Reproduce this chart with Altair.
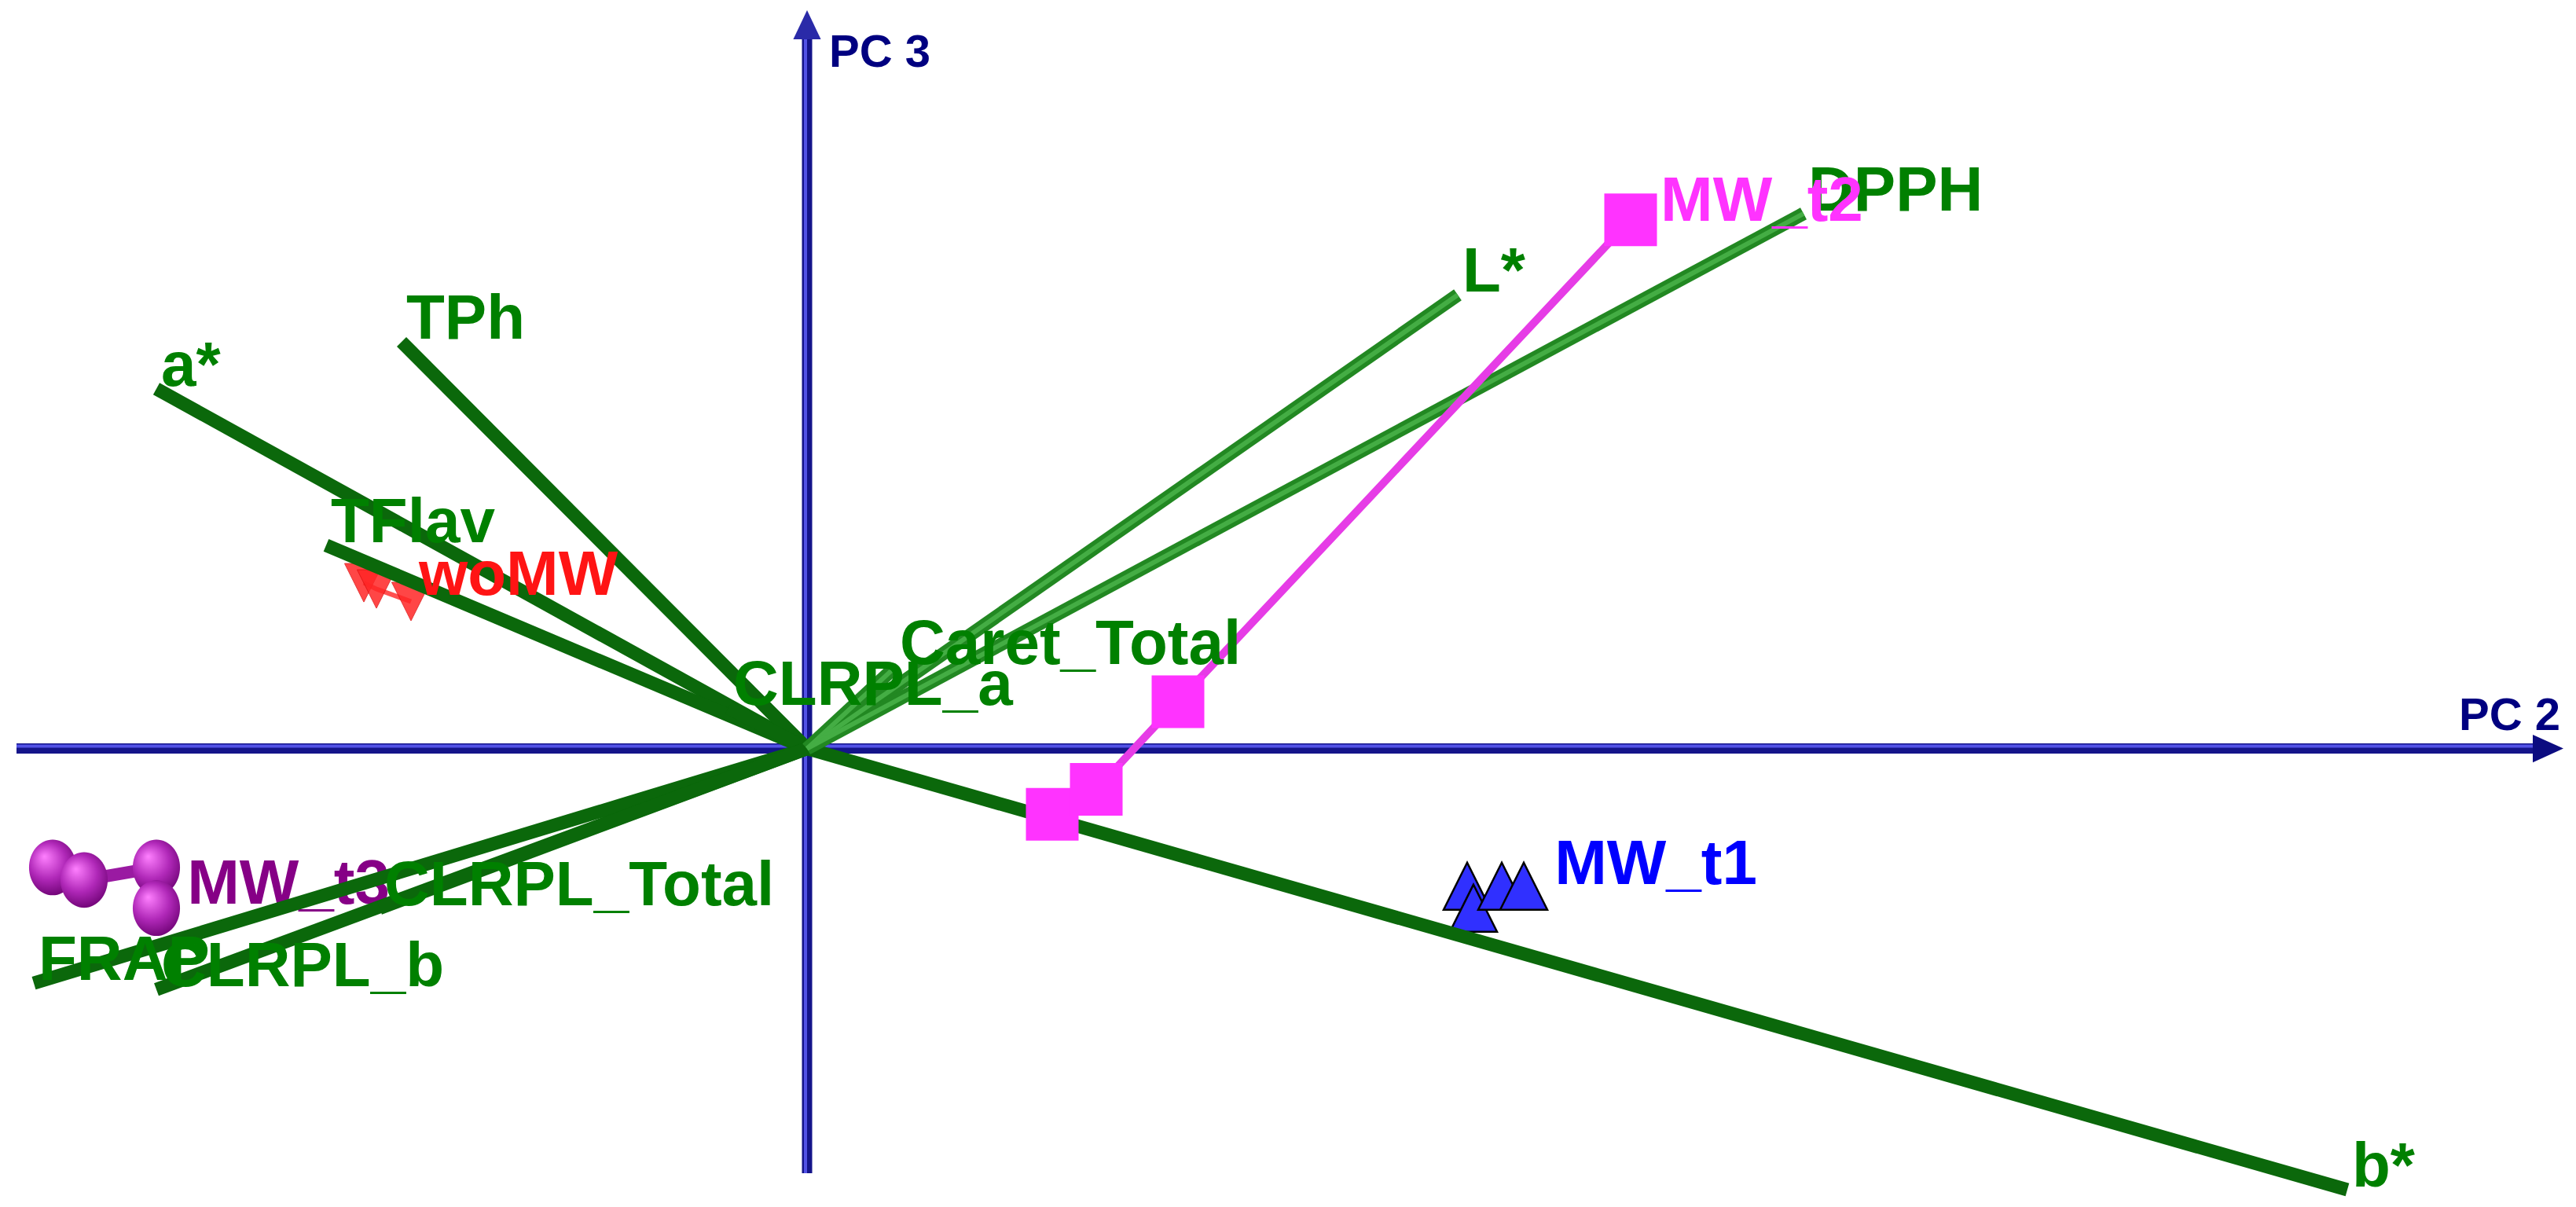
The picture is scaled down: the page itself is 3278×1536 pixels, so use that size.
import altair as alt
import pandas as pd

# ---------------- data ----------------
# variable loadings (PC 2, PC 3)
var_names = ["a*", "TPh", "TFlav", "CLRPL_a", "Caret_Total", "L*", "DPPH", "b*", "FRAP", "CLRPL_b", "CLRPL_Total"]
var_pc2 = [-2.07, -1.29, -1.53, -0.25, 0.28, 2.07, 3.17, 4.90, -2.46, -2.07, -1.36]
var_pc3 = [1.15, 1.30, 0.65, 0.13, 0.26, 1.45, 1.71, -1.41, -0.75, -0.77, -0.51]
var_tone = ["dark", "dark", "dark", "dark", "light", "light", "light", "dark", "dark", "dark", "dark"]

# sample scores
wo_pc2 = [-1.41, -1.37, -1.26]
wo_pc3 = [0.53, 0.51, 0.47]
t1_pc2 = [2.10, 2.12, 2.21, 2.28]
t1_pc3 = [-0.44, -0.51, -0.44, -0.44]
t2_pc2 = [0.78, 0.92, 1.18, 2.62]
t2_pc3 = [-0.21, -0.13, 0.15, 1.69]
t3_pc2 = [-2.40, -2.30, -2.07, -2.07]
t3_pc3 = [-0.38, -0.42, -0.38, -0.51]

group_names = ["woMW", "MW_t1", "MW_t2", "MW_t3"]
group_colors = ["#ff1414", "#0000ff", "#ff33ff", "#860086"]
group_label_pc2 = [-1.235, 2.378, 2.715, -1.972]
group_label_pc3 = [0.492, -0.432, 1.688, -0.495]

axis_names = ["PC 2", "PC 3"]
pc2_axis = [-2.515, 5.5875]
pc3_axis = [-1.3575, 2.36]

W, H = 3256, 1518
x_dom = [-2.5475, 5.5925]
y_dom = [-1.4225, 2.3725]

xs = alt.Scale(domain=x_dom, nice=False, zero=False)
ys = alt.Scale(domain=y_dom, nice=False, zero=False)

def X(f):
    return alt.X(f, type="quantitative", scale=xs, axis=None)

def Y(f):
    return alt.Y(f, type="quantitative", scale=ys, axis=None)

FONT = "Liberation Sans, Arial, sans-serif"
FS = 80

# ---------------- axes ----------------
h_axis = pd.DataFrame({"x": [pc2_axis[0]], "x2": [pc2_axis[1]], "y": [0.0]})
v_axis = pd.DataFrame({"y": [pc3_axis[0]], "y2": [pc3_axis[1]], "x": [0.0]})

h_main = alt.Chart(h_axis).mark_rule(color="#14148a", strokeWidth=13, x2Offset=-25).encode(
    x=X("x"), x2="x2", y=Y("y"))
h_hi = alt.Chart(h_axis).mark_rule(color="#5252e6", strokeWidth=4, x2Offset=-25, yOffset=-3).encode(
    x=X("x"), x2="x2", y=Y("y"))
v_main = alt.Chart(v_axis).mark_rule(color="#14148a", strokeWidth=13, y2Offset=25).encode(
    y=Y("y"), y2="y2", x=X("x"))
v_hi = alt.Chart(v_axis).mark_rule(color="#5252e6", strokeWidth=4, y2Offset=25, xOffset=-2).encode(
    y=Y("y"), y2="y2", x=X("x"))

h_head = alt.Chart(pd.DataFrame({"x": [pc2_axis[1]], "y": [0.0]})).mark_point(
    shape="M1,0L-1,-0.9L-1,0.9Z", size=1521, filled=True, fill="#0c0c80", opacity=1,
    xOffset=-19.5).encode(x=X("x"), y=Y("y"))
v_head = alt.Chart(pd.DataFrame({"x": [0.0], "y": [pc3_axis[1]]})).mark_point(
    shape="M0,-1L-0.95,1L0.95,1Z", size=1369, filled=True, fill="#2a2aa8", opacity=1,
    yOffset=18.5).encode(x=X("x"), y=Y("y"))

axis_lab = pd.DataFrame({"name": axis_names, "x": [pc2_axis[1], 0.0], "y": [0.0, pc3_axis[1]]})
pc2_text = alt.Chart(axis_lab.iloc[[0]]).mark_text(
    font=FONT, fontWeight="bold", fontSize=58, color="#000080", align="right",
    baseline="alphabetic", dx=-4, dy=-24).encode(x=X("x"), y=Y("y"), text="name")
pc3_text = alt.Chart(axis_lab.iloc[[1]]).mark_text(
    font=FONT, fontWeight="bold", fontSize=58, color="#000080", align="left",
    baseline="alphabetic", dx=28, dy=72).encode(x=X("x"), y=Y("y"), text="name")

# ---------------- loadings ----------------
vdf = pd.DataFrame({"name": var_names, "x": var_pc2, "y": var_pc3, "tone": var_tone,
                    "x0": [0.0] * len(var_names), "y0": [0.0] * len(var_names)})

vec_dark = alt.Chart(vdf[vdf.tone == "dark"]).mark_rule(color="#0b680b", strokeWidth=17).encode(
    x=X("x0"), y=Y("y0"), x2="x", y2="y")
vec_light = alt.Chart(vdf[vdf.tone == "light"]).mark_rule(color="#228822", strokeWidth=17).encode(
    x=X("x0"), y=Y("y0"), x2="x", y2="y")
vec_light_hi = alt.Chart(vdf[vdf.tone == "light"]).mark_rule(color="#44ad44", strokeWidth=6).encode(
    x=X("x0"), y=Y("y0"), x2="x", y2="y")

vec_text = alt.Chart(vdf).mark_text(
    font=FONT, fontWeight="bold", fontSize=FS, color="#008000", align="left",
    baseline="alphabetic", dx=6, dy=-4).encode(x=X("x"), y=Y("y"), text="name")

# ---------------- scores ----------------
def sdf(px, py):
    return pd.DataFrame({"x": px, "y": py, "o": list(range(len(px)))})

wo = sdf(wo_pc2, wo_pc3)
t1 = sdf(t1_pc2, t1_pc3)
t2 = sdf(t2_pc2, t2_pc3)
t3 = sdf(t3_pc2, t3_pc3)

wo_line = alt.Chart(wo).mark_line(color="#ff5050", strokeWidth=6).encode(x=X("x"), y=Y("y"), order="o")
wo_pts = alt.Chart(wo).mark_point(shape="M-1,-1L1,-1L0,1Z", size=2400, filled=True,
                                  fill="#ff2626", opacity=0.85, stroke="#e01010", strokeWidth=1).encode(
    x=X("x"), y=Y("y"))

t1_line = alt.Chart(t1).mark_line(color="#2424e0", strokeWidth=9).encode(x=X("x"), y=Y("y"), order="o")
t1_pts = alt.Chart(t1).mark_point(shape="M0,-1L-1,1L1,1Z", size=3600, filled=True,
                                  fill="#3030ff", opacity=1, stroke="#000000", strokeWidth=2.5).encode(
    x=X("x"), y=Y("y"))

t2_line = alt.Chart(t2).mark_line(color="#e63ce6", strokeWidth=10).encode(x=X("x"), y=Y("y"), order="o")
t2_pts = alt.Chart(t2).mark_point(shape="square", size=4489, filled=True,
                                  fill="#ff33ff", opacity=1).encode(x=X("x"), y=Y("y"))

sphere_fill = alt.RadialGradient(
    gradient="radial",
    stops=[alt.GradientStop(offset=0, color="#ff80ff"),
           alt.GradientStop(offset=0.55, color="#b028b8"),
           alt.GradientStop(offset=1, color="#6a0070")],
    x1=0.35, y1=0.3, r1=0.0, x2=0.45, y2=0.45, r2=0.6)
t3_line = alt.Chart(t3).mark_line(color="#9a1aa2", strokeWidth=16).encode(x=X("x"), y=Y("y"), order="o")
t3_pts = alt.Chart(t3).mark_point(shape="M0,-1A0.85,1 0 1,1 0,1A0.85,1 0 1,1 0,-1Z", size=5000,
                                  filled=True, fill=sphere_fill, opacity=1).encode(x=X("x"), y=Y("y"))

gl = pd.DataFrame({"name": group_names, "x": group_label_pc2, "y": group_label_pc3,
                   "c": group_colors})

def glabel(i):
    return alt.Chart(gl.iloc[[i]]).mark_text(
        font=FONT, fontWeight="bold", fontSize=FS, color=group_colors[i], align="left",
        baseline="alphabetic").encode(x=X("x"), y=Y("y"), text="name")

chart = alt.layer(
    h_main, h_hi, v_main, v_hi, h_head, v_head, pc2_text, pc3_text,
    glabel(3), t3_line, t3_pts, wo_line, wo_pts, t1_line, t1_pts,
    vec_dark, vec_light, vec_light_hi,
    t2_line, t2_pts,
    vec_text,
    glabel(0), glabel(1), glabel(2),
).properties(
    width=W, height=H, padding=0, background="#ffffff",
    autosize=alt.AutoSizeParams(type="fit", contains="padding"),
).configure_view(strokeWidth=0)

chart.save("out.html", embed_options={"renderer": "svg", "actions": False})
